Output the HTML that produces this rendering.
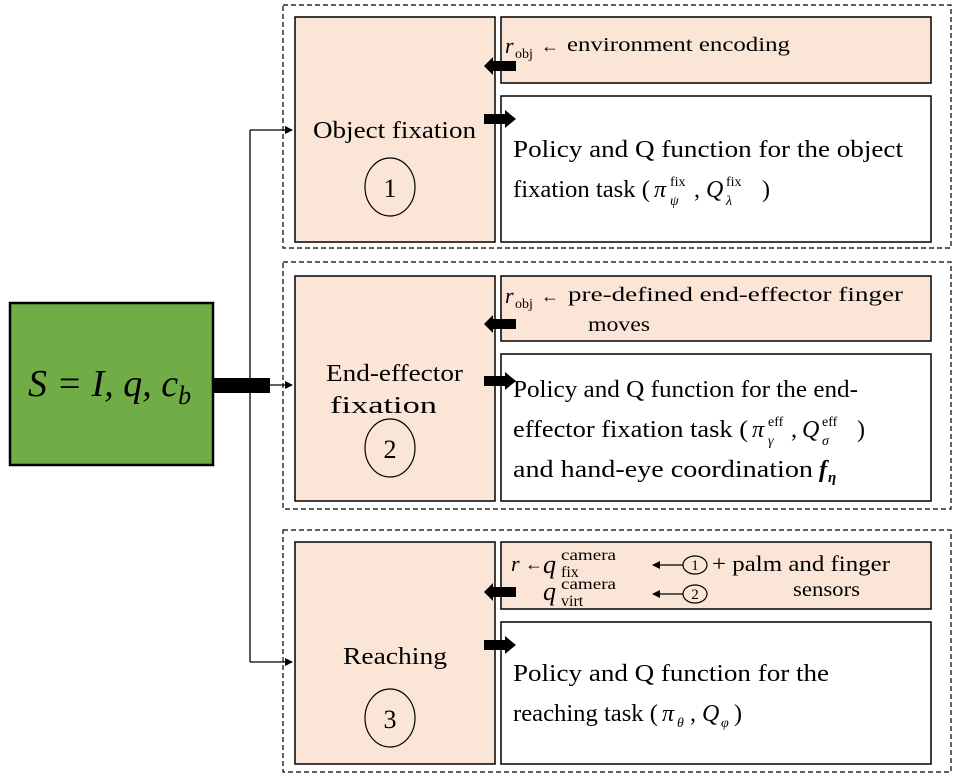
<!DOCTYPE html>
<html><head><meta charset="utf-8"><style>
html,body{margin:0;padding:0;background:#fff}
svg{display:block}
text{font-family:"Liberation Serif","DejaVu Serif",serif;fill:#000}
.it{font-style:italic}
</style></head><body>
<svg width="957" height="775" viewBox="0 0 957 775" xmlns="http://www.w3.org/2000/svg">
<defs>
<marker id="ah" markerWidth="8" markerHeight="8" refX="7" refY="4" orient="auto" markerUnits="userSpaceOnUse"><path d="M0,0 L8,4 L0,8 Z" fill="#000"/></marker>
</defs>
<rect x="283" y="5" width="668" height="243" fill="none" stroke="#000" stroke-width="1.2" stroke-dasharray="5,3"/>
<rect x="283" y="262" width="668" height="247" fill="none" stroke="#000" stroke-width="1.2" stroke-dasharray="5,3"/>
<rect x="283" y="530" width="668" height="242" fill="none" stroke="#000" stroke-width="1.2" stroke-dasharray="5,3"/>

<rect x="10" y="303" width="203" height="162" fill="#70ad47" stroke="#000" stroke-width="2.5"/>
<text x="28" y="396" font-size="38" class="it">S = I, q, c<tspan font-size="26" dy="8">b</tspan></text>
<rect x="213" y="378" width="57" height="15" fill="#000"/>
<line x1="250" y1="130" x2="250" y2="662" stroke="#000" stroke-width="1.3"/>
<line x1="250" y1="130" x2="292" y2="130" stroke="#000" stroke-width="1.3" marker-end="url(#ah)"/>
<line x1="270" y1="385" x2="292" y2="385" stroke="#000" stroke-width="1.3" marker-end="url(#ah)"/>
<line x1="250" y1="662" x2="292" y2="662" stroke="#000" stroke-width="1.3" marker-end="url(#ah)"/>

<!-- box 1 -->
<rect x="295" y="17" width="200" height="225" fill="#fbe5d6" stroke="#000" stroke-width="1.5"/>
<rect x="501" y="17" width="430" height="66" fill="#fbe5d6" stroke="#000" stroke-width="1.5"/>
<rect x="501" y="96" width="430" height="146" fill="#fff" stroke="#000" stroke-width="1.5"/>
<text x="313" y="138" font-size="24" textLength="163" lengthAdjust="spacingAndGlyphs">Object fixation</text>
<ellipse cx="390" cy="187" rx="25" ry="29" fill="none" stroke="#000" stroke-width="1.2"/>
<text x="390" y="197" font-size="26" text-anchor="middle">1</text>
<text x="505" y="53" font-size="22" class="it">r</text>
<text x="515" y="58" font-size="14" font-family="Liberation Sans,sans-serif">obj</text>
<text x="541" y="52" font-size="18">←</text>
<text x="567" y="51" font-size="20" textLength="223" lengthAdjust="spacingAndGlyphs">environment encoding</text>
<text x="513" y="157" font-size="24" textLength="390" lengthAdjust="spacingAndGlyphs">Policy and Q function for the object</text>
<text x="513" y="197" font-size="24" textLength="137" lengthAdjust="spacingAndGlyphs">fixation task (</text>
<text x="654" y="197" font-size="24" class="it">π</text>
<text x="670" y="186" font-size="14">fix</text>
<text x="670" y="205" font-size="14" class="it">ψ</text>
<text x="694" y="197" font-size="24">,</text>
<text x="706" y="197" font-size="24" class="it">Q</text>
<text x="726" y="186" font-size="14">fix</text>
<text x="726" y="205" font-size="14" class="it">λ</text>
<text x="762" y="197" font-size="24">)</text>

<!-- box 2 -->
<rect x="295" y="276" width="200" height="225" fill="#fbe5d6" stroke="#000" stroke-width="1.5"/>
<rect x="501" y="276" width="430" height="65" fill="#fbe5d6" stroke="#000" stroke-width="1.5"/>
<rect x="501" y="354" width="430" height="147" fill="#fff" stroke="#000" stroke-width="1.5"/>
<text x="326" y="381" font-size="24" textLength="137" lengthAdjust="spacingAndGlyphs">End-effector</text>
<text x="330" y="413" font-size="24" textLength="107" lengthAdjust="spacingAndGlyphs">fixation</text>
<ellipse cx="390" cy="448" rx="25" ry="29" fill="none" stroke="#000" stroke-width="1.2"/>
<text x="390" y="458" font-size="26" text-anchor="middle">2</text>
<text x="505" y="303" font-size="22" class="it">r</text>
<text x="515" y="308" font-size="14" font-family="Liberation Sans,sans-serif">obj</text>
<text x="541" y="302" font-size="18">←</text>
<text x="568" y="301" font-size="20" textLength="335" lengthAdjust="spacingAndGlyphs">pre-defined end-effector finger</text>
<text x="588" y="331" font-size="20" textLength="62" lengthAdjust="spacingAndGlyphs">moves</text>
<text x="513" y="397" font-size="24" textLength="345" lengthAdjust="spacingAndGlyphs">Policy and Q function for the end-</text>
<text x="513" y="437" font-size="24" textLength="235" lengthAdjust="spacingAndGlyphs">effector fixation task (</text>
<text x="752" y="437" font-size="24" class="it">π</text>
<text x="768" y="426" font-size="14">eff</text>
<text x="768" y="445" font-size="14" class="it">γ</text>
<text x="791" y="437" font-size="24">,</text>
<text x="802" y="437" font-size="24" class="it">Q</text>
<text x="822" y="426" font-size="14">eff</text>
<text x="822" y="445" font-size="14" class="it">σ</text>
<text x="857" y="437" font-size="24">)</text>
<text x="513" y="477" font-size="24" textLength="300" lengthAdjust="spacingAndGlyphs">and hand-eye coordination</text>
<text x="819" y="477" font-size="24" class="it" font-weight="bold">f</text>
<text x="828" y="482" font-size="15" class="it" font-weight="bold">η</text>

<!-- box 3 -->
<rect x="295" y="542" width="200" height="222" fill="#fbe5d6" stroke="#000" stroke-width="1.5"/>
<rect x="501" y="542" width="430" height="67" fill="#fbe5d6" stroke="#000" stroke-width="1.5"/>
<rect x="501" y="622" width="430" height="142" fill="#fff" stroke="#000" stroke-width="1.5"/>
<text x="343" y="664" font-size="24" textLength="104" lengthAdjust="spacingAndGlyphs">Reaching</text>
<ellipse cx="390" cy="718" rx="25" ry="29" fill="none" stroke="#000" stroke-width="1.2"/>
<text x="390" y="728" font-size="26" text-anchor="middle">3</text>
<text x="511" y="571" font-size="22" class="it">r</text>
<text x="525" y="570" font-size="18">←</text>
<text x="543" y="573" font-size="26" class="it">q</text>
<text x="561" y="560" font-size="16" textLength="55" lengthAdjust="spacingAndGlyphs">camera</text>
<text x="561" y="577" font-size="16">fix</text>
<text x="543" y="600" font-size="26" class="it">q</text>
<text x="561" y="589" font-size="16" textLength="55" lengthAdjust="spacingAndGlyphs">camera</text>
<text x="561" y="606" font-size="16">virt</text>
<line x1="683" y1="565" x2="653" y2="565" stroke="#000" stroke-width="1.2" marker-end="url(#ah)"/>
<ellipse cx="695" cy="565" rx="12" ry="9" fill="none" stroke="#000" stroke-width="1.2"/>
<text x="695" y="570" font-size="15" text-anchor="middle">1</text>
<line x1="683" y1="594" x2="653" y2="594" stroke="#000" stroke-width="1.2" marker-end="url(#ah)"/>
<ellipse cx="695" cy="594" rx="12" ry="9" fill="none" stroke="#000" stroke-width="1.2"/>
<text x="695" y="599" font-size="15" text-anchor="middle">2</text>
<text x="712" y="571" font-size="22" textLength="178" lengthAdjust="spacingAndGlyphs">+ palm and finger</text>
<text x="793" y="596" font-size="20" textLength="67" lengthAdjust="spacingAndGlyphs">sensors</text>
<text x="513" y="681" font-size="24" textLength="316" lengthAdjust="spacingAndGlyphs">Policy and Q function for the</text>
<text x="513" y="721" font-size="24" textLength="145" lengthAdjust="spacingAndGlyphs">reaching task (</text>
<text x="662" y="721" font-size="24" class="it">π</text>
<text x="677" y="727" font-size="14" class="it">θ</text>
<text x="690" y="721" font-size="24">,</text>
<text x="702" y="721" font-size="24" class="it">Q</text>
<text x="721" y="727" font-size="14" class="it">φ</text>
<text x="734" y="721" font-size="24">)</text>

<g fill="#000">
<path d="M516,61 L493,61 L493,57 L484,66 L493,75 L493,71 L516,71 Z"/>
<path d="M484,114 L505,114 L505,110 L516,119 L505,128 L505,124 L484,124 Z"/>
<path d="M516,319 L493,319 L493,315 L484,324 L493,333 L493,329 L516,329 Z"/>
<path d="M484,376 L505,376 L505,372 L516,381 L505,390 L505,386 L484,386 Z"/>
<path d="M516,587 L493,587 L493,583 L484,592 L493,601 L493,597 L516,597 Z"/>
<path d="M484,640 L505,640 L505,636 L516,645 L505,654 L505,650 L484,650 Z"/>
</g>
</svg>
</body></html>
